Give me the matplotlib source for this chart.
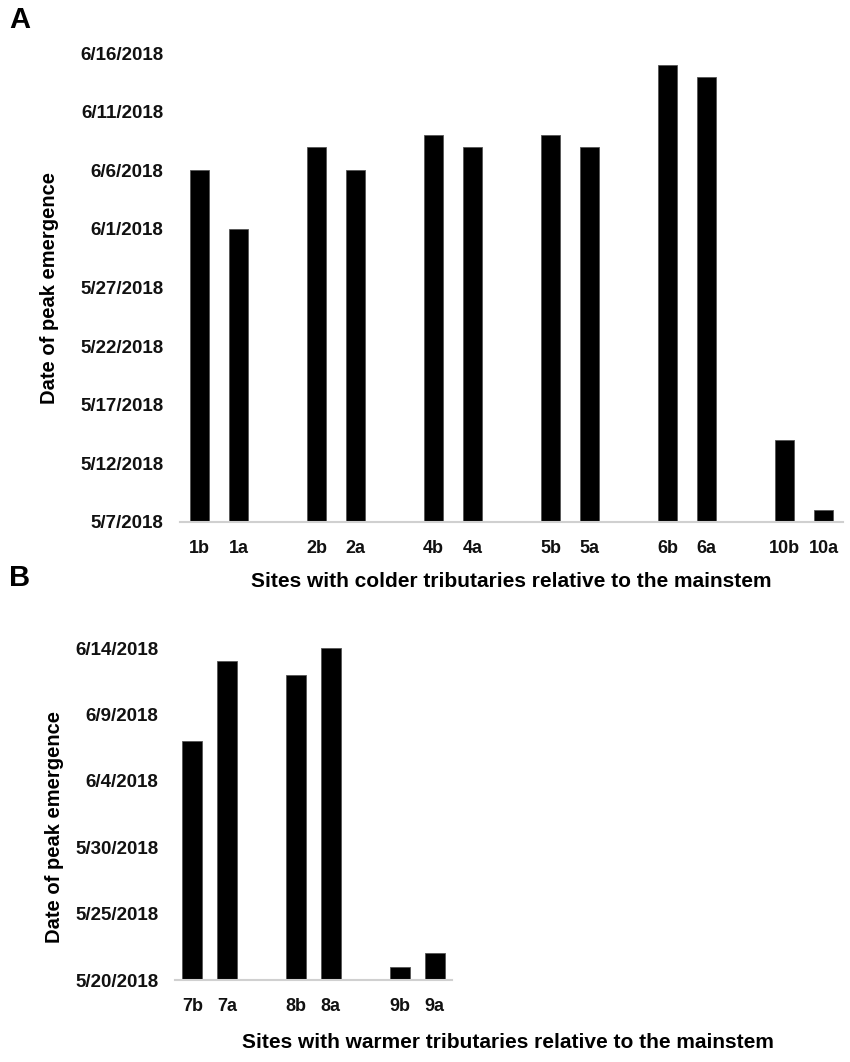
import datetime as dt
import matplotlib
matplotlib.use("Agg")
import matplotlib.pyplot as plt
import matplotlib.dates as mdates

plt.rcParams['font.family'] = ['Liberation Sans', 'DejaVu Sans']
plt.rcParams['font.weight'] = 'bold'

# panel A - colder tributaries
sites_a = ["1b", "1a", "2b", "2a", "4b", "4a", "5b", "5a", "6b", "6a", "10b", "10a"]
peak_a = ["2018-06-06", "2018-06-01", "2018-06-08", "2018-06-06", "2018-06-09", "2018-06-08",
          "2018-06-09", "2018-06-08", "2018-06-15", "2018-06-14", "2018-05-14", "2018-05-08"]
ymin_a = "2018-05-07"
ymax_a = "2018-06-16"

# panel B - warmer tributaries
sites_b = ["7b", "7a", "8b", "8a", "9b", "9a"]
peak_b = ["2018-06-07", "2018-06-13", "2018-06-12", "2018-06-14", "2018-05-21", "2018-05-22"]
ymin_b = "2018-05-20"
ymax_b = "2018-06-14"


def to_num(s):
    return mdates.date2num(dt.datetime.strptime(s, "%Y-%m-%d"))


def date_label(n):
    d = mdates.num2date(n)
    return f"{d.month}/{d.day}/{d.year}"


def panel(ax, sites, peaks, lo, hi, width):
    base = to_num(lo)
    top = to_num(hi)
    # pairs of sites with one empty slot between pairs
    xpos = [i + i // 2 for i in range(len(sites))]
    vals = [to_num(p) - base for p in peaks]
    ax.bar(xpos, vals, width=width, bottom=base, color="black", edgecolor="#555555", linewidth=0.6)
    ax.set_xlim(-0.5, xpos[-1] + 0.5)
    ax.set_ylim(base, top)
    ticks = list(range(int(base), int(top) + 1, 5))
    ax.set_yticks(ticks)
    ax.set_yticklabels([date_label(t) for t in ticks], fontsize=13.5, fontweight="bold", color="#111111")
    ax.set_xticks(xpos)
    ax.set_xticklabels(sites, fontsize=13, fontweight="bold", color="#111111")
    ax.tick_params(axis="both", length=0)
    ax.tick_params(axis="y", pad=12)
    ax.tick_params(axis="x", pad=13)
    for s in ["top", "right", "left"]:
        ax.spines[s].set_visible(False)
    ax.spines["bottom"].set_color("#d0d0d0")
    ax.spines["bottom"].set_linewidth(1.5)
    ax.set_ylabel("Date of peak emergence", fontsize=14.5, fontweight="bold")


fig = plt.figure(figsize=(8.5, 10.62), dpi=100)

ax1 = fig.add_axes([0.2118, 0.5085, 0.7800, 0.4415])
panel(ax1, sites_a, peak_a, ymin_a, ymax_a, 0.49)
ax1.yaxis.set_label_coords(-0.182, 0.5)
ax1.set_xlabel("Sites with colder tributaries relative to the mainstem", fontsize=15, fontweight="bold", labelpad=11)

ax2 = fig.add_axes([0.2059, 0.0772, 0.3259, 0.3126])
panel(ax2, sites_b, peak_b, ymin_b, ymax_b, 0.58)
ax2.yaxis.set_label_coords(-0.401, 0.46)
fig.text(508 / 850, 1 - 1043 / 1062, "Sites with warmer tributaries relative to the mainstem",
         fontsize=15, fontweight="bold", ha="center", va="center")

fig.text(9 / 850, 1 - 20 / 1062, "A", fontsize=21, fontweight="bold", va="center")
fig.text(9 / 850, 1 - 578 / 1062, "B", fontsize=21, fontweight="bold", va="center")

fig.savefig("out.png", dpi=100, facecolor="white")
